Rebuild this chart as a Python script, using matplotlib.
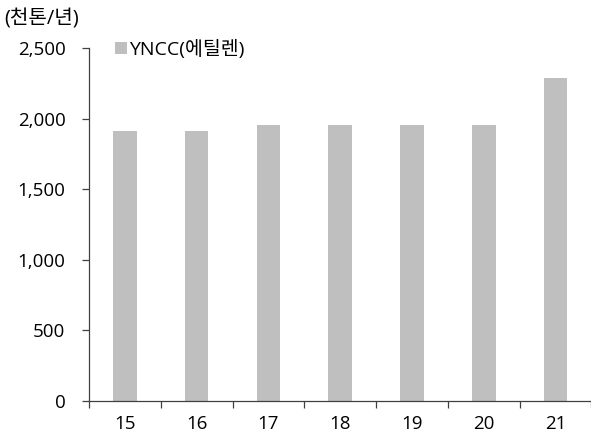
import matplotlib.pyplot as plt
import numpy as np

plt.rcParams['font.family'] = ['Open Sans', 'Noto Sans CJK KR', 'DejaVu Sans']

# 데이터
years = ['15', '16', '17', '18', '19', '20', '21']
capacity = [1915, 1915, 1955, 1955, 1955, 1955, 2290]
series_name = 'YNCC(에틸렌)'
unit_label = '(천톤/년)'

fig = plt.figure(figsize=(5.91, 4.34), dpi=100)
ax = fig.add_axes([0.1506, 0.076, 0.85, 0.813])

x = np.arange(len(years))
ax.bar(x, capacity, width=0.33, color='#BFBFBF', label=series_name, zorder=2)

ax.set_xlim(-0.5, len(years) - 0.5)
ax.set_ylim(0, 2500)
ax.set_yticks(range(0, 2501, 500))
ax.set_yticklabels([f'{v:,}' for v in range(0, 2501, 500)])
ax.set_xticks(x)
ax.set_xticklabels(years)
ax.set_xticks(np.arange(-0.5, len(years), 1), minor=True)

for s in ['top', 'right']:
    ax.spines[s].set_visible(False)
for s in ['left', 'bottom']:
    ax.spines[s].set_color('#404040')
    ax.spines[s].set_linewidth(0.9)

ax.tick_params(axis='y', length=5, width=0.9, color='#404040', labelsize=13.5, pad=12)
ax.tick_params(axis='x', which='major', length=0, labelsize=13.5, pad=10)
ax.tick_params(axis='x', which='minor', length=5, width=0.9, color='#404040')

ax.legend(loc='upper left', bbox_to_anchor=(0.036, 1.045), frameon=False, fontsize=14,
          handlelength=0.6, handleheight=0.6, handletextpad=0.15, borderaxespad=0)

fig.text(0.008, 0.955, unit_label, fontsize=14.5, va='center', ha='left')

plt.savefig('out.png', dpi=100)
